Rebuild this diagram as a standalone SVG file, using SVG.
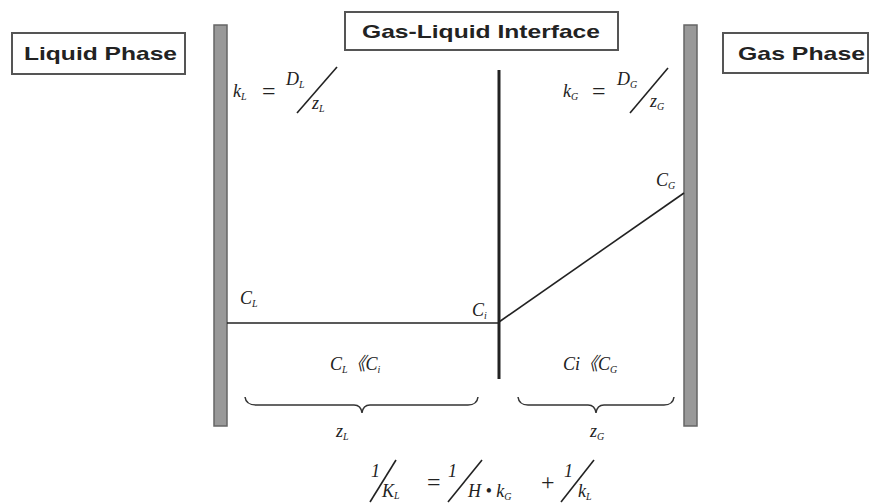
<svg xmlns="http://www.w3.org/2000/svg" width="869" height="504" viewBox="0 0 869 504">
<style>
.box{fill:#fff;stroke:#555;stroke-width:2}
.lbl{font-family:"Liberation Sans",Arial,sans-serif;font-weight:bold;font-size:19px;fill:#222}
.bar{fill:#999;stroke:#666;stroke-width:1.5}
.m{font-family:"Liberation Serif","Times New Roman","Noto Sans CJK SC",serif;font-style:italic;font-size:18px;fill:#222}
.op{font-family:"Liberation Serif","Times New Roman",serif;font-size:24px;fill:#222}
.s{font-size:10px}
.ln{stroke:#222;stroke-width:1.6;fill:none}
.br{stroke:#333;stroke-width:1.5;fill:none}
</style>
<rect width="869" height="504" fill="#fff"/>
<g id="liquid-phase">
<rect class="box" x="12" y="33" width="173" height="41"/>
<text class="lbl" x="24" y="60" textLength="153" lengthAdjust="spacingAndGlyphs">Liquid Phase</text>
</g>
<g id="interface-label">
<rect class="box" x="345" y="12" width="273" height="38"/>
<text class="lbl" x="362" y="38" textLength="238" lengthAdjust="spacingAndGlyphs">Gas-Liquid Interface</text>
</g>
<g id="gas-phase">
<rect class="box" x="723" y="33" width="145" height="40"/>
<text class="lbl" x="738" y="60" textLength="127" lengthAdjust="spacingAndGlyphs">Gas Phase</text>
</g>
<g id="left-wall"><rect class="bar" x="214" y="25" width="13" height="401"/></g>
<g id="right-wall"><rect class="bar" x="684" y="25" width="13" height="401"/></g>
<g id="interface"><rect x="497.5" y="70" width="3" height="309" fill="#222"/></g>
<g id="connectors">
<line class="ln" x1="227" y1="323" x2="499" y2="323"/>
<line class="ln" x1="499" y1="322" x2="684" y2="193"/>
<path class="br" d="M245,397 Q246,405 256,405 L354,405 Q361,405 362,413 Q363,405 370,405 L468,405 Q477,405 478,397"/>
<path class="br" d="M518,397 Q519,405 528,405 L588,405 Q595,405 596,413 Q597,405 604,405 L664,405 Q673,405 674,397"/>
</g>
<g id="kL-eq">
<text class="m" x="233" y="97">k<tspan class="s" dy="3">L</tspan></text>
<text class="op" x="262" y="99">=</text>
<text class="m" x="286" y="85">D<tspan class="s" dy="3">L</tspan></text>
<line class="ln" x1="297" y1="113" x2="337" y2="67" stroke-width="1.3"/>
<text class="m" x="312" y="109">z<tspan class="s" dy="3">L</tspan></text>
</g>
<g id="kG-eq">
<text class="m" x="563" y="97">k<tspan class="s" dy="3">G</tspan></text>
<text class="op" x="592" y="99">=</text>
<text class="m" x="617" y="85">D<tspan class="s" dy="3">G</tspan></text>
<line class="ln" x1="630" y1="113" x2="668" y2="68" stroke-width="1.3"/>
<text class="m" x="650" y="107">z<tspan class="s" dy="3">G</tspan></text>
</g>
<g id="CG"><text class="m" x="656" y="186">C<tspan class="s" dy="3">G</tspan></text></g>
<g id="CL"><text class="m" x="240" y="304">C<tspan class="s" dy="3">L</tspan></text></g>
<g id="Ci"><text class="m" x="472" y="316">C<tspan class="s" dy="3">i</tspan></text></g>
<g id="liq-ineq"><text class="m" x="330" y="370">C<tspan class="s" dy="3">L</tspan><tspan dy="-3">《C</tspan><tspan class="s" dy="3">i</tspan></text></g>
<g id="gas-ineq"><text class="m" x="563" y="370">Ci《C<tspan class="s" dy="3">G</tspan></text></g>
<g id="zL"><text class="m" x="336" y="437">z<tspan class="s" dy="3">L</tspan></text></g>
<g id="zG"><text class="m" x="590" y="437">z<tspan class="s" dy="3">G</tspan></text></g>
<g id="overall-eq">
<text class="m" x="371" y="477" font-size="19">1</text>
<line class="ln" x1="370" y1="502" x2="396" y2="460" stroke-width="1.3"/>
<text class="m" x="382" y="497" font-size="19">K<tspan class="s" dy="2">L</tspan></text>
<text class="op" x="427" y="490">=</text>
<text class="m" x="448" y="477" font-size="19">1</text>
<line class="ln" x1="448" y1="502" x2="482" y2="460" stroke-width="1.3"/>
<text class="m" x="468" y="497" font-size="19">H • k<tspan class="s" dy="3">G</tspan></text>
<text class="op" x="541" y="490">+</text>
<text class="m" x="564" y="477" font-size="19">1</text>
<line class="ln" x1="561" y1="502" x2="594" y2="460" stroke-width="1.3"/>
<text class="m" x="578" y="497" font-size="19">k<tspan class="s" dy="3">L</tspan></text>
</g>
</svg>
